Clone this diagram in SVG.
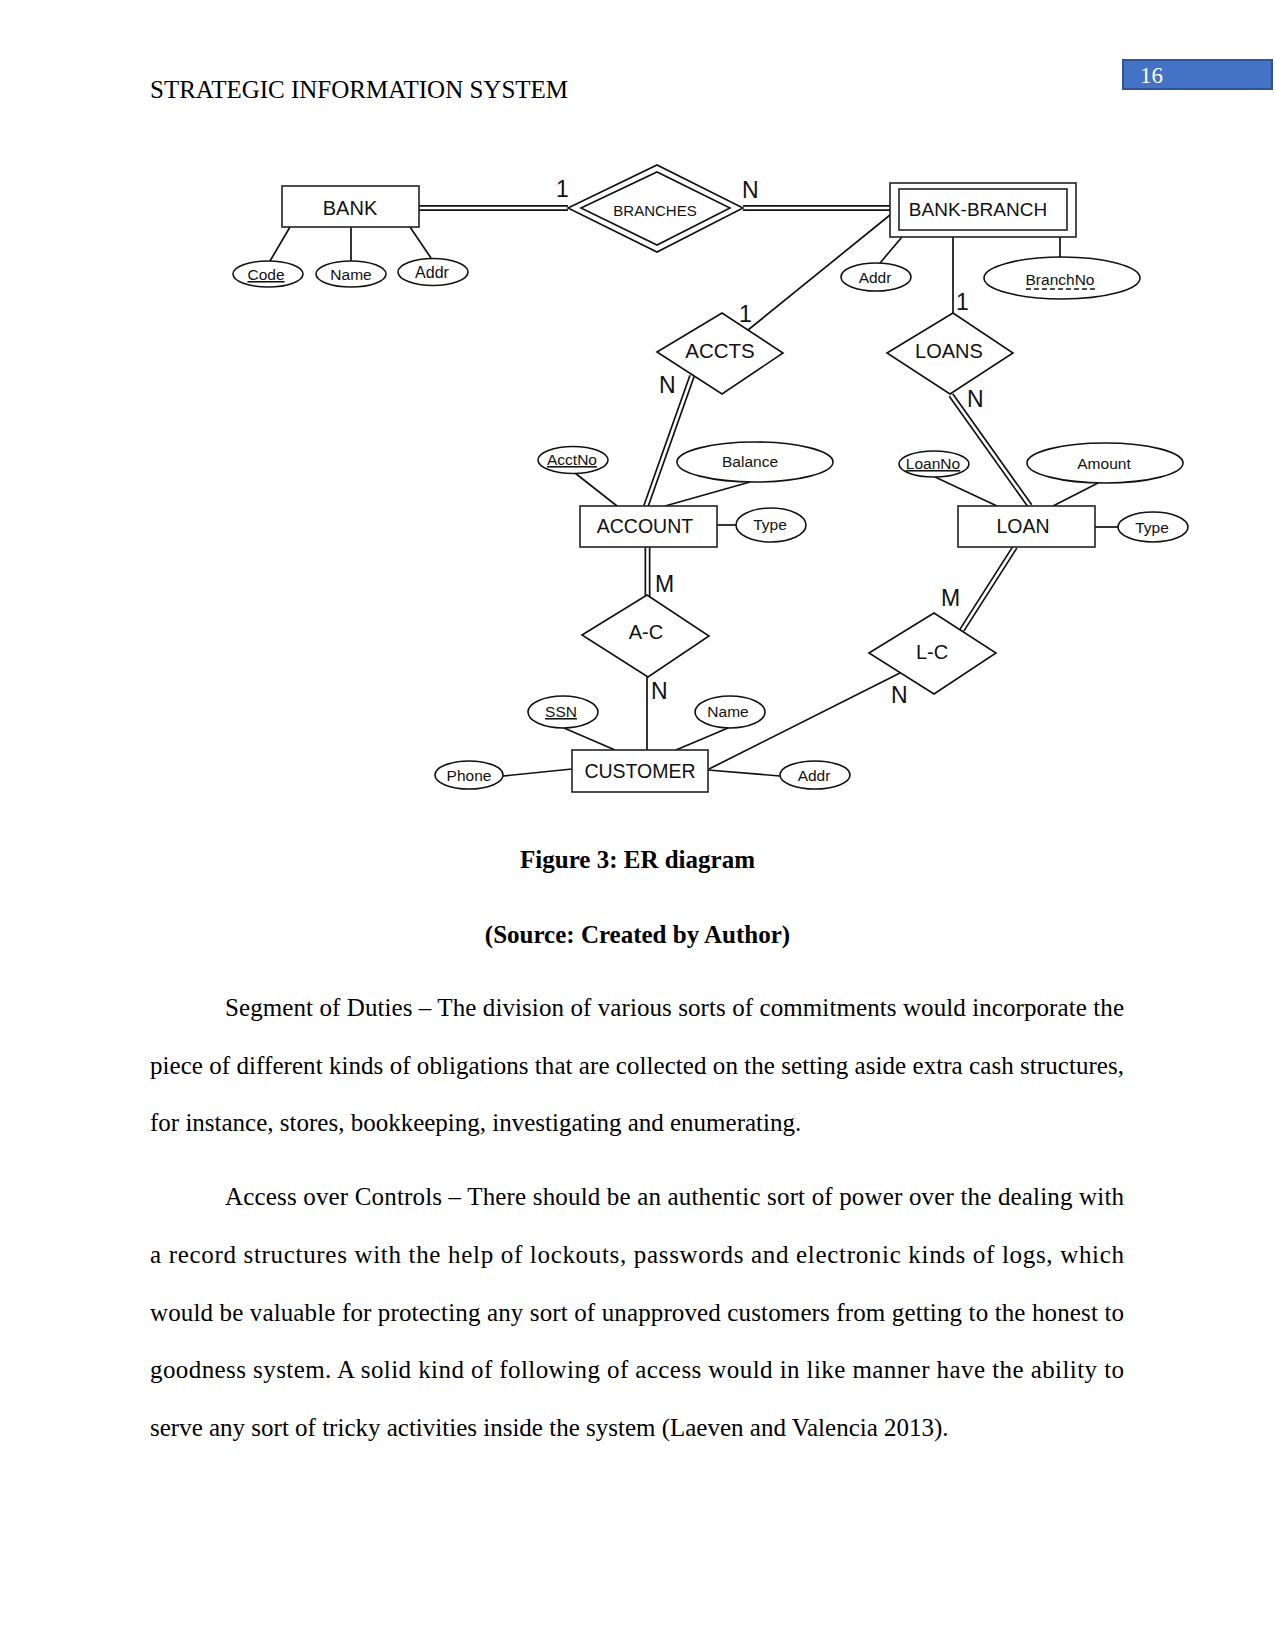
<svg xmlns="http://www.w3.org/2000/svg" width="1275" height="1650" viewBox="0 0 1275 1650">
<style>
.ln{stroke:#111;stroke-width:1.7;fill:none}
.dk{stroke:#111;stroke-width:6;fill:none}
.dw{stroke:#fff;stroke-width:2.6;fill:none}
.ent{fill:#fff;stroke:#222;stroke-width:1.6}
.rel{fill:#fff;stroke:#111;stroke-width:1.6}
.att{fill:#fff;stroke:#111;stroke-width:1.6}
.t{font-family:"Liberation Sans",Arial,sans-serif;fill:#111}
.sm{font-size:15.5px}
.card{font-family:"Liberation Sans",Arial,sans-serif;font-size:23px;fill:#111}
.body{font-family:"Liberation Serif","Times New Roman",serif;font-size:25px;fill:#000}
.bold{font-weight:bold}
</style>
<defs>
<path id="d1" d="M419,208 L568,208"/>
<path id="d2" d="M743,208 L890,208"/>
<path id="d3" d="M692,376 L646,506"/>
<path id="d4" d="M647.5,547 L647.5,597"/>
<path id="d5" d="M951,395 L1030,506"/>
<path id="d6" d="M1015,547 L962,630"/>
</defs>
<rect width="1275" height="1650" fill="#fff"/>

<g id="header">
<text class="body" x="150" y="98">STRATEGIC INFORMATION SYSTEM</text>
<rect x="1123" y="60" width="149" height="29" fill="#4472C4" stroke="#2F5597" stroke-width="2"/>
<text x="1140" y="83" font-family="Liberation Serif, serif" font-size="23" fill="#fff">16</text>
</g>

<g id="connectors">
<use href="#d1" class="dk"/><use href="#d1" class="dw"/>
<use href="#d2" class="dk"/><use href="#d2" class="dw"/>
<use href="#d3" class="dk"/><use href="#d3" class="dw"/>
<use href="#d4" class="dk"/><use href="#d4" class="dw"/>
<use href="#d5" class="dk"/><use href="#d5" class="dw"/>
<use href="#d6" class="dk"/><use href="#d6" class="dw"/>
<line class="ln" x1="290" y1="227" x2="270" y2="261"/>
<line class="ln" x1="351" y1="227" x2="351" y2="261"/>
<line class="ln" x1="410" y1="227" x2="431" y2="258"/>
<line class="ln" x1="902" y1="237" x2="880" y2="263"/>
<line class="ln" x1="1060" y1="237" x2="1060" y2="258" stroke-width="2.6"/>
<line class="ln" x1="953" y1="237" x2="953" y2="313"/>
<line class="ln" x1="890" y1="215" x2="748" y2="330"/>
<line class="ln" x1="575" y1="473" x2="617" y2="506"/>
<line class="ln" x1="750" y1="482" x2="665" y2="506"/>
<line class="ln" x1="717" y1="525" x2="736" y2="525"/>
<line class="ln" x1="935" y1="477" x2="997" y2="506"/>
<line class="ln" x1="1098" y1="483" x2="1053" y2="506"/>
<line class="ln" x1="1095" y1="527" x2="1118" y2="527"/>
<line class="ln" x1="647" y1="677" x2="647" y2="750"/>
<line class="ln" x1="564" y1="728" x2="615" y2="750"/>
<line class="ln" x1="728" y1="728" x2="676" y2="750"/>
<line class="ln" x1="503" y1="776" x2="572" y2="769"/>
<line class="ln" x1="708" y1="770" x2="780" y2="776"/>
<line class="ln" x1="709" y1="769" x2="900" y2="673"/>
</g>

<g id="cardinalities">
<text class="card" x="556" y="197" font-size="21">1</text>
<text class="card" x="742" y="198">N</text>
<text class="card" x="739" y="322">1</text>
<text class="card" x="659" y="393">N</text>
<text class="card" x="956" y="310">1</text>
<text class="card" x="967" y="407">N</text>
<text class="card" x="655" y="592">M</text>
<text class="card" x="651" y="699">N</text>
<text class="card" x="941" y="606">M</text>
<text class="card" x="891" y="703">N</text>
</g>

<g id="bank">
<rect class="ent" x="282" y="186" width="137" height="41"/>
<text class="t" x="350" y="215" font-size="20" text-anchor="middle">BANK</text>
</g>
<g id="bank-code"><ellipse class="att" cx="268" cy="274" rx="35" ry="13"/><text class="t sm" x="266" y="280" text-anchor="middle" text-decoration="underline">Code</text></g>
<g id="bank-name"><ellipse class="att" cx="351" cy="274" rx="35" ry="13"/><text class="t sm" x="351" y="280" text-anchor="middle">Name</text></g>
<g id="bank-addr"><ellipse class="att" cx="433" cy="272" rx="35" ry="13.5"/><text class="t" font-size="16" x="432" y="278" text-anchor="middle">Addr</text></g>

<g id="branches">
<polygon class="rel" points="568,208 657,165 743,208 657,252"/>
<polygon class="rel" points="581,208 657,172 730,208 657,245"/>
<text class="t" x="655" y="216" font-size="15" text-anchor="middle">BRANCHES</text>
</g>

<g id="bank-branch">
<rect class="ent" x="890" y="183" width="186" height="54"/>
<rect class="ent" x="899" y="189" width="168" height="41"/>
<text class="t" x="978" y="216" font-size="19" text-anchor="middle">BANK-BRANCH</text>
</g>
<g id="bb-addr"><ellipse class="att" cx="876" cy="277" rx="35" ry="14"/><text class="t sm" x="875" y="283" text-anchor="middle">Addr</text></g>
<g id="bb-branchno"><ellipse class="att" cx="1062" cy="278" rx="78" ry="21"/><text class="t" x="1060" y="285" font-size="15.5" text-anchor="middle">BranchNo</text><line x1="1026" y1="289" x2="1096" y2="289" stroke="#111" stroke-width="1.3" stroke-dasharray="5,3"/></g>

<g id="accts">
<polygon class="rel" points="657,352 722,313 783,353 722,394"/>
<text class="t" x="720" y="358" font-size="20.5" text-anchor="middle">ACCTS</text>
</g>
<g id="loans">
<polygon class="rel" points="887,353 953,313 1013,353 950,394"/>
<text class="t" x="949" y="358" font-size="20" text-anchor="middle">LOANS</text>
</g>

<g id="account">
<rect class="ent" x="580" y="506" width="137" height="41"/>
<text class="t" x="645" y="533" font-size="19.5" text-anchor="middle">ACCOUNT</text>
</g>
<g id="acctno"><ellipse class="att" cx="573" cy="460" rx="35" ry="13.5"/><text class="t sm" x="572" y="465" text-anchor="middle" text-decoration="underline">AcctNo</text></g>
<g id="balance"><ellipse class="att" cx="755" cy="462" rx="78" ry="20"/><text class="t sm" x="750" y="467" text-anchor="middle">Balance</text></g>
<g id="account-type"><ellipse class="att" cx="771" cy="525" rx="35" ry="17"/><text class="t sm" x="770" y="530" text-anchor="middle">Type</text></g>

<g id="loan">
<rect class="ent" x="958" y="506" width="137" height="41"/>
<text class="t" x="1023" y="533" font-size="19.5" text-anchor="middle">LOAN</text>
</g>
<g id="loanno"><ellipse class="att" cx="934" cy="464" rx="35" ry="13"/><text class="t sm" x="933" y="469" text-anchor="middle" text-decoration="underline">LoanNo</text></g>
<g id="amount"><ellipse class="att" cx="1105" cy="463" rx="78" ry="20"/><text class="t sm" x="1104" y="469" text-anchor="middle">Amount</text></g>
<g id="loan-type"><ellipse class="att" cx="1153" cy="527" rx="35" ry="15"/><text class="t sm" x="1152" y="533" text-anchor="middle">Type</text></g>

<g id="a-c">
<polygon class="rel" points="582,635 647,595 709,636 648,677"/>
<text class="t" x="646" y="639" font-size="20" text-anchor="middle">A-C</text>
</g>
<g id="l-c">
<polygon class="rel" points="869,653 934,613 996,653 934,694"/>
<text class="t" x="932" y="659" font-size="20" text-anchor="middle">L-C</text>
</g>

<g id="customer">
<rect class="ent" x="572" y="750" width="136" height="42"/>
<text class="t" x="640" y="778" font-size="19.5" text-anchor="middle">CUSTOMER</text>
</g>
<g id="ssn"><ellipse class="att" cx="563" cy="712" rx="35" ry="16"/><text class="t sm" x="561" y="717" text-anchor="middle" text-decoration="underline">SSN</text></g>
<g id="cust-name"><ellipse class="att" cx="730" cy="712" rx="35" ry="16"/><text class="t sm" x="728" y="717" text-anchor="middle">Name</text></g>
<g id="phone"><ellipse class="att" cx="469" cy="775" rx="34" ry="14"/><text class="t sm" x="469" y="781" text-anchor="middle">Phone</text></g>
<g id="cust-addr"><ellipse class="att" cx="815" cy="775" rx="35" ry="14"/><text class="t sm" x="814" y="781" text-anchor="middle">Addr</text></g>

<g id="text">
<text class="body bold" x="637.5" y="868" text-anchor="middle">Figure 3: ER diagram</text>
<text class="body bold" x="637.5" y="943" text-anchor="middle">(Source: Created by Author)</text>
<text class="body" x="225" y="1016" textLength="899" lengthAdjust="spacing">Segment of Duties – The division of various sorts of commitments would incorporate the</text>
<text class="body" x="150" y="1073.5" textLength="974" lengthAdjust="spacing">piece of different kinds of obligations that are collected on the setting aside extra cash structures,</text>
<text class="body" x="150" y="1131">for instance, stores, bookkeeping, investigating and enumerating.</text>
<text class="body" x="225" y="1205" textLength="899" lengthAdjust="spacing">Access over Controls – There should be an authentic sort of power over the dealing with</text>
<text class="body" x="150" y="1263" textLength="974" lengthAdjust="spacing">a record structures with the help of lockouts, passwords and electronic kinds of logs, which</text>
<text class="body" x="150" y="1320.5" textLength="974" lengthAdjust="spacing">would be valuable for protecting any sort of unapproved customers from getting to the honest to</text>
<text class="body" x="150" y="1378" textLength="974" lengthAdjust="spacing">goodness system. A solid kind of following of access would in like manner have the ability to</text>
<text class="body" x="150" y="1435.5">serve any sort of tricky activities inside the system (Laeven and Valencia 2013).</text>
</g>
</svg>
